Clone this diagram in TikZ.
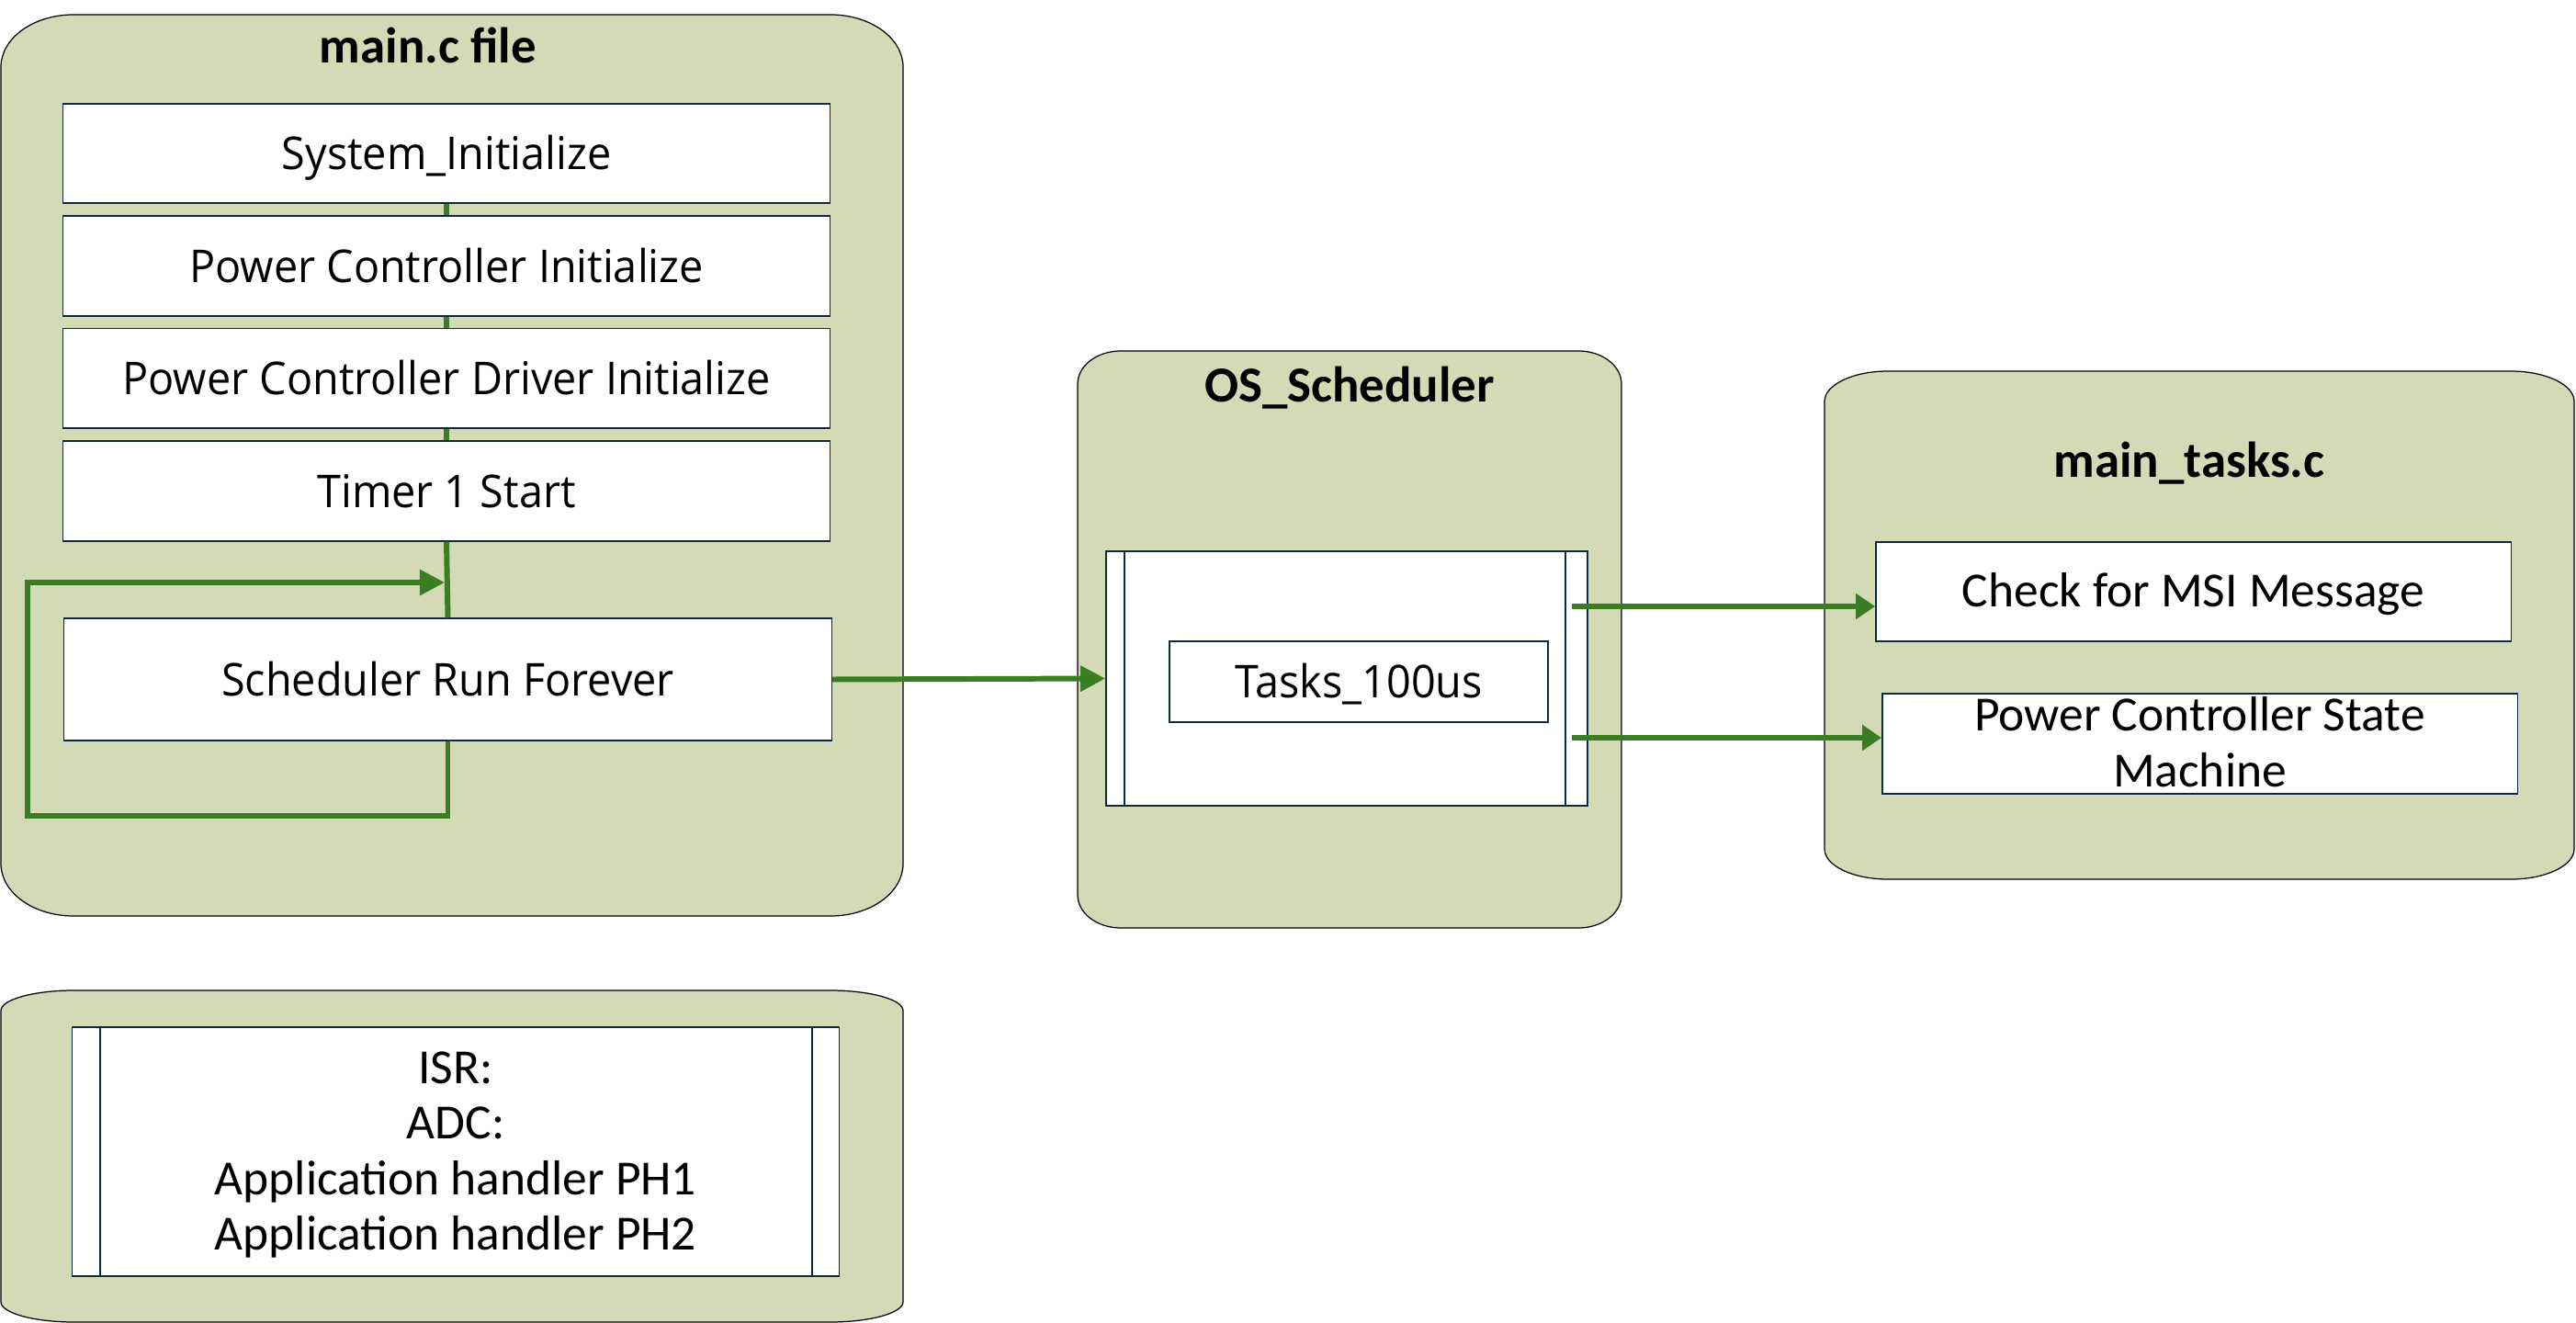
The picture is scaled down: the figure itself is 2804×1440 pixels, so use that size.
\documentclass[tikz,border=0pt]{standalone}
\usepackage{fontspec}
\setmainfont{Open Sans}[FakeStretch=0.95]
\newfontfamily\calfont{Carlito}
\usetikzlibrary{arrows.meta}
\definecolor{cfill}{HTML}{D3DAB5}
\definecolor{cgreen}{HTML}{3B7D23}
\definecolor{cedge}{HTML}{0E2841}
% soft container with elliptical corners: x1 y1 x2 y2 rx ry
\newcommand\softbox[6]{%
  \path[container] (#1,#2+#6)
    .. controls (#1,#2+0.4477*#6) and (#1+0.4477*#5,#2) .. (#1+#5,#2)
    -- (#3-#5,#2)
    .. controls (#3-0.4477*#5,#2) and (#3,#2+0.4477*#6) .. (#3,#2+#6)
    -- (#3,#4-#6)
    .. controls (#3,#4-0.4477*#6) and (#3-0.4477*#5,#4) .. (#3-#5,#4)
    -- (#1+#5,#4)
    .. controls (#1+0.4477*#5,#4) and (#1,#4-0.4477*#6) .. (#1,#4-#6)
    -- cycle;}
\begin{document}
\begin{tikzpicture}[x=0.01cm,y=-0.01cm,
  container/.style={fill=cfill, draw=black, line width=0.35pt},
  wbox/.style={draw=cedge, fill=white, line width=0.4pt, inner sep=0pt, text depth=0pt},
  aptos/.style={font=\fontsize{14}{17}\selectfont, text height=10pt},
  calib/.style={font=\calfont\fontsize{15.2}{17.15}\selectfont, text height=9.4pt},
  ttl/.style={font=\calfont\bfseries\fontsize{15.6}{18}\selectfont, anchor=base, inner sep=0pt},
  conn/.style={draw=cgreen, line width=1.7pt},
  arr/.style={conn, -{Triangle[length=7.7pt,width=7.7pt]}},
  arrs/.style={conn, -{Triangle[length=6pt,width=7.7pt]}},
  barline/.style={draw=cedge, line width=0.4pt}]
\useasboundingbox (0,0) rectangle (2804,1440);

% containers
\softbox{1}{16}{983}{997}{79}{57}
\softbox{1173}{382}{1765}{1010}{47}{36}
\softbox{1986}{404}{2802}{957}{69}{33}
\softbox{1}{1078}{983}{1439}{80}{22}

% titles
\node[ttl] (tmain) at (466,69) {main.c file};
\node[ttl] (tos) at (1469,438) {OS\_Scheduler};
\node[ttl] (ttasks) at (2383,520) {main\_tasks.c};

% main.c boxes
\node[wbox, aptos, minimum width=8.34cm, minimum height=1.08cm] (sys) at (486,167) {System\_Initialize};
\node[wbox, aptos, minimum width=8.34cm, minimum height=1.09cm] (pci) at (486,289.5) {Power Controller Initialize};
\node[wbox, aptos, minimum width=8.34cm, minimum height=1.085cm] (drv) at (486,411.75) {Power Controller Driver Initialize};
\node[wbox, aptos, minimum width=8.34cm, minimum height=1.09cm] (tmr) at (486,534.5) {Timer 1 Start};
\node[wbox, aptos, minimum width=8.35cm, minimum height=1.33cm] (sched) at (487.5,739.5) {Scheduler Run Forever};

% OS scheduler process box
\node[wbox, minimum width=5.24cm, minimum height=2.77cm] (proc) at (1466,738.5) {};
\draw[barline] ([xshift=0.21cm]proc.north west) -- ([xshift=0.21cm]proc.south west);
\draw[barline] ([xshift=-0.25cm]proc.north east) -- ([xshift=-0.25cm]proc.south east);
\node[wbox, aptos, minimum width=4.12cm, minimum height=0.88cm] (tasks) at (1479,742) {Tasks\_100us};

% main_tasks boxes
\node[wbox, calib, minimum width=6.91cm, minimum height=1.08cm] (msi) at (2387.5,644) {Check for MSI Message};
\node[wbox, calib, text height=26.55pt, align=center, minimum width=6.91cm, minimum height=1.09cm] (pcsm) at (2394.5,809.5) {Power Controller State\\Machine};

% ISR process box
\node[wbox, calib, text height=60.85pt, align=center, minimum width=8.34cm, minimum height=2.71cm] (isr) at (496,1253.5) {ISR:\\ADC:\\Application handler PH1\\Application handler PH2};
\draw[barline] ([xshift=0.31cm]isr.north west) -- ([xshift=0.31cm]isr.south west);
\draw[barline] ([xshift=-0.30cm]isr.north east) -- ([xshift=-0.30cm]isr.south east);

% connectors in main.c
\draw[conn] (sys.south) -- (pci.north);
\draw[conn] (pci.south) -- (drv.north);
\draw[conn] (drv.south) -- (tmr.north);
\draw[conn] (tmr.south) -- (sched.north);
\coordinate (lleft) at (30,888);
\coordinate (ltop) at (30,634);
\coordinate (ljoin) at (484,634);
\draw[arr] (sched.south) |- (lleft) -- (ltop) -- (ljoin);

% scheduler to OS_Scheduler
\draw[arr] (sched.east) -- (proc.west);

% OS_Scheduler to main_tasks
\coordinate (o1) at (1711,660);
\coordinate (o2) at (1711,803);
\draw[arrs] (o1) -- (msi.west |- o1);
\draw[arrs] (o2) -- (pcsm.west |- o2);
\end{tikzpicture}
\end{document}
